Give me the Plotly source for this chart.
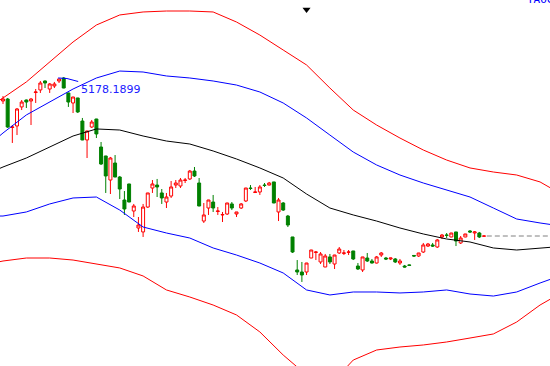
import plotly.graph_objects as go

# ---- candle data (price units) ----
idx = list(range(104))
opens = [4906, 4928, 4605, 4622, 4838, 4917, 4906, 5002, 5031, 5133,
         5042, 5076, 5133, 5167, 4997, 4883, 4940, 4678, 4463, 4610,
         4701, 4383, 4281, 4008, 4201, 4042, 3781, 3963, 3656, 3463,
         3418, 3701, 3917, 3951, 3861, 3758, 3826, 3951, 3940, 4003,
         4020, 4110, 3974, 3542, 3690, 3758, 3650, 3611, 3622, 3736,
         3622, 3690, 3770, 3917, 3866, 3872, 3951, 3951, 3986, 3645,
         3747, 3599, 3361, 2986, 2963, 2963, 3122, 3185, 3077, 3020,
         3134, 3054, 3179, 3175, 3187, 3202, 3031, 2986, 3122, 3088,
         3065, 3156, 3122, 3111, 3111, 3065, 3031, 3043, 3151, 3145,
         3190, 3258, 3270, 3247, 3361, 3383, 3361, 3418, 3293, 3361,
         3429, 3406, 3406, 3370]
highs = [4962, 4940, 4633, 4826, 4917, 4922, 4940, 5042, 5133, 5140,
         5110, 5122, 5158, 5178.1899, 5000, 4953, 4942, 4713, 4567, 4690,
         4703, 4440, 4283, 4270, 4292, 4054, 3883, 3965, 3736, 3588,
         3736, 3862, 4008, 4020, 3906, 3861, 3997, 4008, 4031, 4031,
         4122, 4156, 4031, 3747, 3783, 3838, 3701, 3645, 3749, 3758,
         3646, 3747, 3919, 3951, 3929, 3951, 3974, 3986, 3987, 3804,
         3758, 3611, 3362, 3099, 3077, 3067, 3215, 3202, 3190, 3168,
         3168, 3158, 3247, 3213, 3213, 3203, 3065, 3135, 3179, 3111,
         3145, 3190, 3134, 3124, 3122, 3111, 3043, 3048, 3156, 3180,
         3293, 3293, 3293, 3338, 3395, 3406, 3408, 3419, 3372, 3396,
         3440, 3429, 3418, 3378]
lows = [4872, 4599, 4429, 4519, 4803, 4826, 4633, 4883, 4997, 5053,
        4997, 5053, 5110, 5050, 4838, 4769, 4769, 4460, 4258, 4599,
        4485, 4179, 3861, 3849, 4040, 3792, 3611, 3756, 3588, 3418,
        3361, 3690, 3861, 3815, 3736, 3690, 3804, 3917, 3917, 3974,
        4008, 4042, 3710, 3520, 3611, 3645, 3611, 3531, 3611, 3667,
        3588, 3679, 3758, 3895, 3861, 3838, 3929, 3945, 3745, 3542,
        3656, 3474, 3179, 2929, 2850, 2929, 3120, 3099, 3054, 3018,
        3054, 2997, 3168, 3156, 3156, 3099, 2986, 2963, 3077, 3060,
        3060, 3134, 3099, 3099, 3065, 3043, 3014, 3031, 3134, 3134,
        3179, 3247, 3247, 3236, 3338, 3349, 3358, 3258, 3281, 3358,
        3406, 3327, 3349, 3366]
closes = [4928, 4610, 4610, 4815, 4894, 4894, 4928, 5008, 5110, 5110,
          5099, 5099, 5156, 5053, 4894, 4951, 4781, 4463, 4565, 4667,
          4531, 4190, 4054, 4258, 4042, 3906, 3679, 3758, 3713, 3497,
          3701, 3861, 3963, 3929, 3804, 3815, 3929, 3974, 4008, 4008,
          4110, 4054, 3713, 3611, 3781, 3690, 3656, 3616, 3747, 3690,
          3645, 3736, 3917, 3912, 3872, 3929, 3946, 3974, 3747, 3781,
          3667, 3497, 3190, 2963, 2929, 3065, 3213, 3190, 3168, 3145,
          3077, 3156, 3224, 3179, 3190, 3111, 2997, 3134, 3088, 3065,
          3134, 3179, 3111, 3122, 3077, 3088, 3020, 3039, 3145, 3179,
          3270, 3281, 3258, 3327, 3383, 3380, 3406, 3315, 3349, 3395,
          3418, 3418, 3361, 3372]

# ---- band lines (price units) ----
band_idx = [-1, 0, 5, 10, 15, 20, 25, 30, 35, 40, 45, 50, 55, 60, 65,
            70, 75, 80, 85, 90, 95, 100, 105, 110, 115, 118]
mid_line = [4133, 4156, 4258, 4383, 4508, 4588, 4576, 4508, 4451, 4417,
            4338, 4247, 4145, 4031, 3849, 3690, 3611, 3542, 3463, 3395,
            3338, 3304, 3236, 3213, 3236, 3247]
upper1 = [4497, 4542, 4747, 4894, 5042, 5167, 5246, 5235, 5190, 5167,
          5133, 5087, 5008, 4883, 4713, 4519, 4326, 4179, 4065, 3974,
          3895, 3815, 3690, 3565, 3520, 3497]
lower1 = [3599, 3599, 3645, 3736, 3804, 3815, 3667, 3474, 3406, 3349,
          3236, 3156, 3065, 2952, 2759, 2702, 2736, 2736, 2725, 2736,
          2759, 2713, 2690, 2736, 2838, 2895]
upper2 = [4906, 4940, 5122, 5349, 5576, 5769, 5883, 5917, 5928, 5928,
          5917, 5803, 5655, 5485, 5315, 5053, 4803, 4633, 4485, 4349,
          4235, 4145, 4099, 4065, 3986, 3895]
lower2 = [3077, 3088, 3122, 3122, 3099, 3054, 3009, 2918, 2759, 2679,
          2588, 2475, 2282, 2020, 1793, 1679, 1963, 2077, 2111, 2134,
          2168, 2213, 2259, 2395, 2588, 2679]

# leader line from the max high towards its label (offsets)
leader_dx = [-1.2, 0.7, 3.1]
leader_dy = [-11, -17, -51]

marker_index = 65
top_label = "TAOC"

fig = go.Figure()

def band(vals, color):
    fig.add_trace(go.Scatter(x=band_idx, y=vals, mode="lines",
                             line=dict(color=color, width=1),
                             hoverinfo="skip", showlegend=False))

band(upper2, "#ff0000")
band(lower2, "#ff0000")
band(upper1, "#0000ff")
band(lower1, "#0000ff")
band(mid_line, "#000000")

# max label
imax = max(range(len(highs)), key=lambda i: highs[i])
hmax = highs[imax]

fig.add_trace(go.Scatter(x=[imax + d for d in leader_dx], y=[hmax + d for d in leader_dy],
                         mode="lines", line=dict(color="#0000ff", width=1),
                         hoverinfo="skip", showlegend=False))

fig.add_trace(go.Candlestick(
    x=idx, open=opens, high=highs, low=lows, close=closes,
    increasing=dict(line=dict(color="#ff0000", width=1), fillcolor="#ffffff"),
    decreasing=dict(line=dict(color="#008000", width=1), fillcolor="#008000"),
    whiskerwidth=0, showlegend=False))

# last price dashed line
last_close = closes[-1]
fig.add_trace(go.Scatter(x=[idx[-1] + 0.6, band_idx[-1]], y=[last_close, last_close],
                         mode="lines", line=dict(color="#808080", width=1, dash="5px,3px"),
                         hoverinfo="skip", showlegend=False))

fig.add_annotation(x=imax, y=hmax, xref="x", yref="y", text=f"{hmax:.4f}",
                   showarrow=False, xanchor="left", yanchor="middle",
                   xshift=15, yshift=-12,
                   font=dict(family="DejaVu Sans", size=11, color="#2020ff"))

# small marker triangle at top
fig.add_trace(go.Scatter(x=[marker_index], y=[5945], mode="markers",
                         marker=dict(symbol="triangle-down", size=7, color="#000000"),
                         hoverinfo="skip", showlegend=False))

fig.add_annotation(x=525 / 550, y=1 - 8 / 366, xref="paper", yref="paper",
                   text=top_label, showarrow=False, xanchor="left", yanchor="bottom",
                   font=dict(family="DejaVu Sans Mono", size=11, color="#0000ff"))

x_lo = -3 / 4.67
x_hi = (550 - 3) / 4.67
fig.update_layout(
    width=550, height=366,
    margin=dict(l=0, r=0, t=0, b=0),
    paper_bgcolor="#ffffff", plot_bgcolor="#ffffff",
    showlegend=False,
    boxgap=0.2, boxgroupgap=0.2,
    xaxis=dict(range=[x_lo, x_hi], visible=False, rangeslider=dict(visible=False),
               showgrid=False, zeroline=False),
    yaxis=dict(range=[6053 - 11.36 * 366, 6053], visible=False,
               showgrid=False, zeroline=False),
)

fig.write_html("out.html", config=dict(displayModeBar=False),
               post_script="document.body.style.margin='0';document.body.style.padding='0';")
